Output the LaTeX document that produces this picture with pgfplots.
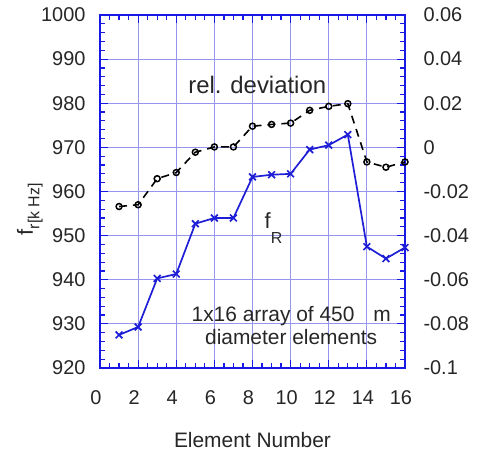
\documentclass[border=0pt]{standalone}
\usepackage{pgfplots}
\pgfplotsset{compat=1.18}
\usepackage{fontspec}
\setmainfont{Liberation Sans}
\definecolor{axblue}{RGB}{25,25,230}
\definecolor{gridblue}{RGB}{150,150,240}
\definecolor{lineblue}{RGB}{30,30,215}
\begin{document}
\begin{tikzpicture}
\useasboundingbox (-100bp,-86bp) rectangle (383bp,368bp);
\begin{axis}[
  at={(0,0)}, anchor=south west,
  scale only axis, width=305bp, height=353bp,
  xmin=0, xmax=16, ymin=920, ymax=1000,
  xtick={0,2,...,16}, ytick={920,930,...,1000},
  minor x tick num=3, minor y tick num=4,
  tick pos=both, tick align=inside,
  major tick length=8bp, minor tick length=5bp,
  every tick/.style={axblue, line width=1.2pt},
  every minor tick/.style={axblue, line width=1.2pt},
  grid=major,
  major grid style={gridblue, line width=0.9pt},
  axis line style={axblue, line width=2.2pt},
  /pgf/number format/assume math mode=true,
  /pgf/number format/1000 sep={},
  ticklabel style={font=\fontsize{20}{22}\selectfont, text=black!85},
  yticklabel style={xshift=-11bp},
  xticklabel style={yshift=-19bp, xshift=-4bp},
  xlabel={Element Number},
  xlabel style={at={(axis description cs:0.5,-0.203)}, anchor=center, font=\fontsize{21}{23}\selectfont, text=black!85},
  ylabel={f\raisebox{-0.3em}{\fontsize{16}{16}\selectfont r[k Hz]}},
  ylabel style={at={(axis description cs:-0.23,0.45)}, anchor=center, font=\fontsize{22}{24}\selectfont, text=black!85},
  clip=false,
]
\addplot[lineblue, line width=1.7pt, mark=x, mark size=4.8pt, mark options={line width=1.7pt}]
coordinates {
(1,927.5) (2,929.3) (3,940.3) (4,941.3) (5,952.7) (6,954.0) (7,954.0) (8,963.3)
(9,963.8) (10,964.0) (11,969.5) (12,970.5) (13,972.9) (14,947.5) (15,944.8) (16,947.3)
};
\node[font=\fontsize{24}{26}\selectfont, text=black!85] at (axis cs:8.25,984.1) {rel. deviation};
\node[font=\fontsize{22}{24}\selectfont, text=black!85, anchor=base west, inner sep=0pt] at (axis cs:8.63,951.6) {f\raisebox{-15bp}{\fontsize{16}{16}\selectfont R}};
\node[font=\fontsize{21}{23}\selectfont, text=black!85, align=center] at (axis cs:10.03,929.7) {1x16 array of 450\hspace{0.9em}m\\diameter elements};
\end{axis}
\begin{axis}[
  at={(0,0)}, anchor=south west,
  scale only axis, width=305bp, height=353bp,
  xmin=0, xmax=16, ymin=-0.1, ymax=0.06,
  axis x line=none, axis y line*=right,
  axis line style={draw=none},
  ytick={-0.1,-0.08,-0.06,-0.04,-0.02,0,0.02,0.04,0.06},
  yticklabels={-0.1,-0.08,-0.06,-0.04,-0.02,0,0.02,0.04,0.06},
  major tick length=0pt,
  ticklabel style={font=\fontsize{20}{22}\selectfont, text=black!85},
  yticklabel style={xshift=15bp},
]
\addplot[black, line width=1.6pt, dash pattern=on 8pt off 6pt, mark=o, mark size=3pt, mark options={solid, line width=1.5pt}]
coordinates {
(1,-0.0268) (2,-0.0260) (3,-0.0142) (4,-0.0114) (5,-0.0022) (6,0.0002) (7,0.0002) (8,0.0096)
(9,0.0104) (10,0.0110) (11,0.0168) (12,0.0186) (13,0.0198) (14,-0.0066) (15,-0.0090) (16,-0.0066)
};
\end{axis}
\end{tikzpicture}
\end{document}
